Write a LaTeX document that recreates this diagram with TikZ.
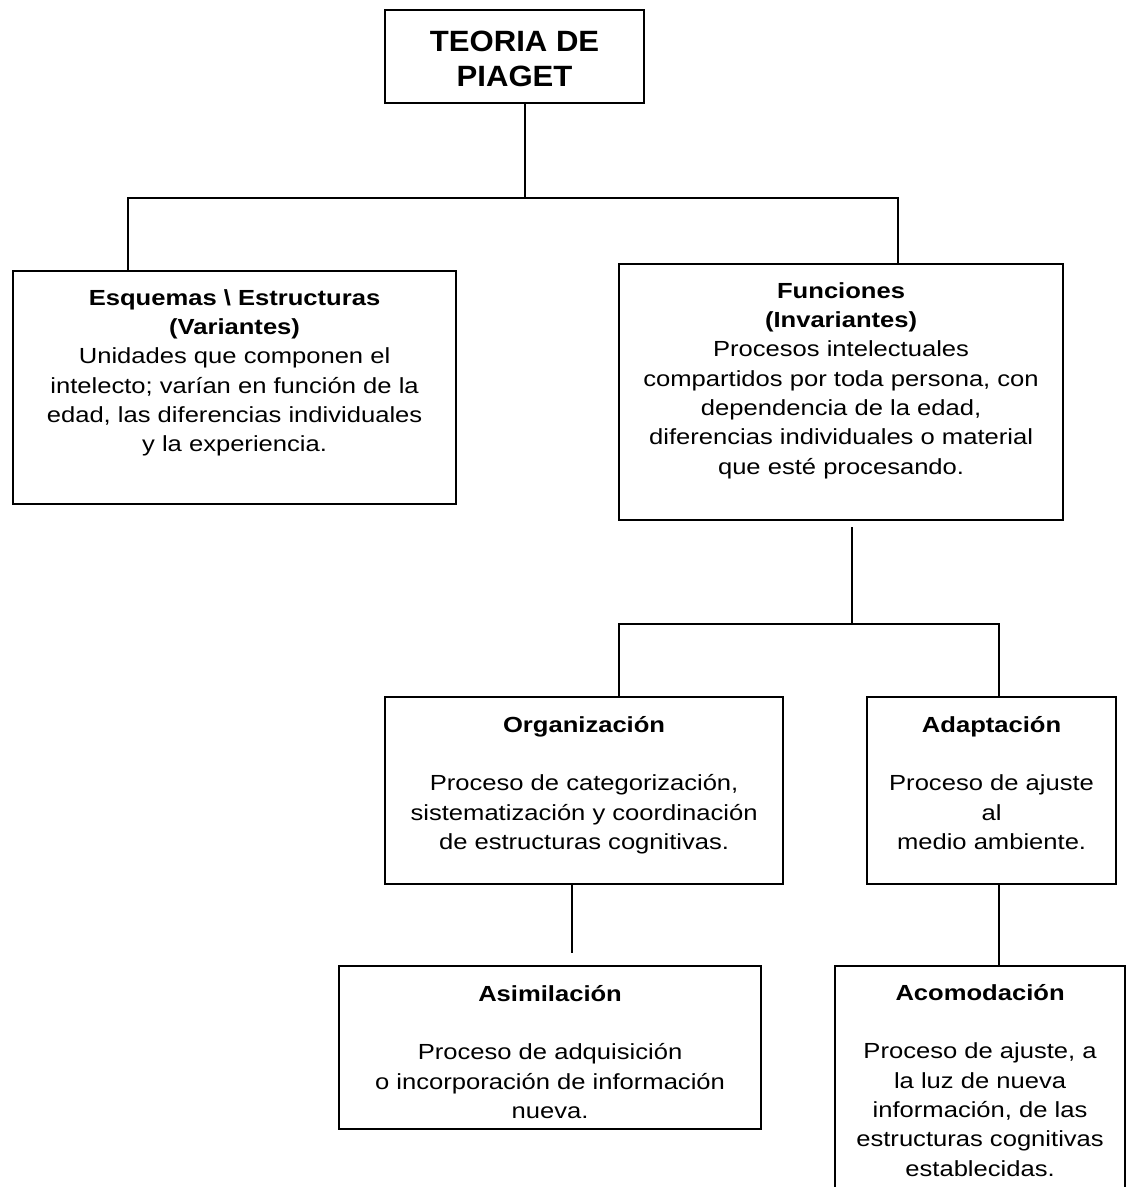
\documentclass[tikz,border=0pt]{standalone}
\usepackage{fontspec}
\setmainfont{Liberation Sans}[FakeStretch=1.17]
\newfontfamily\titulofont{Liberation Sans}[FakeStretch=1.06]

\newcommand{\cuerpo}{\fontsize{16.4pt}{22pt}\selectfont}
\newcommand{\titulo}{\titulofont\bfseries\fontsize{22pt}{26.25pt}\selectfont}
% width, height, first baseline, text
\newcommand{\caja}[4]{\parbox[c][#2][t]{#1}{\centering\rule{0pt}{#3}#4}}

\begin{document}
\begin{tikzpicture}[x=0.75pt, y=-0.75pt,
    recuadro/.style={draw, line width=1.6pt, inner sep=0pt, anchor=north west, font=\cuerpo},
    enlace/.style={line width=1.6pt}]

  \useasboundingbox (0,0) rectangle (1125,1187);

  % Boxes
  \node[recuadro] (teoria) at (384,9)
    {\caja{194.25pt}{69.75pt}{30.75pt}{\titulo TEORIA DE\\PIAGET}};

  \node[recuadro] (esquemas) at (12,270)
    {\caja{332.25pt}{174.75pt}{25.5pt}{\textbf{Esquemas \textbackslash{} Estructuras}\\
      \textbf{(Variantes)}\\
      Unidades que componen el\\
      intelecto; varían en función de la\\
      edad, las diferencias individuales\\
      y la experiencia.}};

  \node[recuadro] (funciones) at (618,263)
    {\caja{333pt}{192pt}{25.5pt}{\textbf{Funciones}\\
      \textbf{(Invariantes)}\\
      Procesos intelectuales\\
      compartidos por toda persona, con\\
      dependencia de la edad,\\
      diferencias individuales o material\\
      que esté procesando.}};

  \node[recuadro] (organizacion) at (384,696)
    {\caja{298.5pt}{140.25pt}{26.25pt}{\textbf{Organización}\\[\baselineskip]
      Proceso de categorización,\\
      sistematización y coordinación\\
      de estructuras cognitivas.}};

  \node[recuadro] (adaptacion) at (866,696)
    {\caja{186.75pt}{140.25pt}{26.25pt}{\textbf{Adaptación}\\[\baselineskip]
      Proceso de ajuste\\
      al\\
      medio ambiente.}};

  \node[recuadro] (asimilacion) at (338,965)
    {\caja{316.5pt}{122.25pt}{26.25pt}{\textbf{Asimilación}\\[\baselineskip]
      Proceso de adquisición\\
      o incorporación de información\\
      nueva.}};

  \node[recuadro] (acomodacion) at (834,965)
    {\caja{217.5pt}{180pt}{25.5pt}{\textbf{Acomodación}\\[\baselineskip]
      Proceso de ajuste, a\\
      la luz de nueva\\
      información, de las\\
      estructuras cognitivas\\
      establecidas.}};

  % Branch points
  \coordinate (t1) at (525,198);
  \coordinate (e1) at (128,198);
  \coordinate (f1) at (898,198);
  \coordinate (g0) at (852,527);
  \coordinate (g1) at (852,624);
  \coordinate (o1) at (619,624);
  \coordinate (a1) at (999,624);
  \coordinate (s0) at (572,953);

  % Connectors
  \draw[enlace] (teoria.south -| t1) -- (t1);
  \draw[enlace] (esquemas.north -| e1) -- (e1) -- (f1) -- (funciones.north -| f1);
  \draw[enlace] (g0) -- (g1);
  \draw[enlace] (organizacion.north -| o1) -- (o1) -- (a1) -- (adaptacion.north -| a1);
  \draw[enlace] (organizacion.south -| s0) -- (s0);
  \draw[enlace] (adaptacion.south -| a1) -- (acomodacion.north -| a1);
\end{tikzpicture}
\end{document}
